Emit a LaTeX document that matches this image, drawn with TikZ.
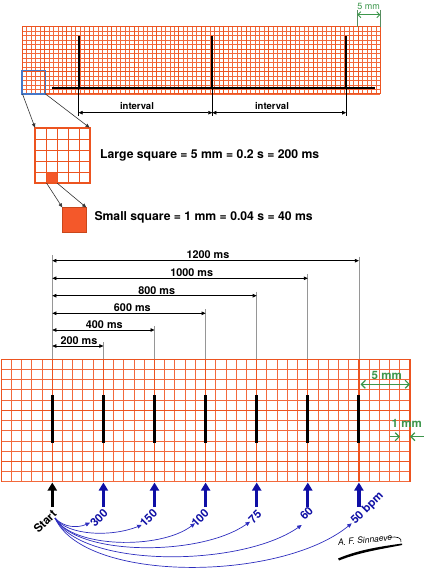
\documentclass[tikz,border=0pt]{standalone}
\usepackage{fontspec}
\setmainfont{TeX Gyre Heros}
\usetikzlibrary{arrows.meta,calc}
\definecolor{gridthin}{RGB}{242,105,60}
\definecolor{gridheavy}{RGB}{236,84,32}
\definecolor{fillsq}{RGB}{244,88,42}
\definecolor{bluebox}{RGB}{70,120,200}
\definecolor{greenc}{RGB}{60,150,75}
\definecolor{navy}{RGB}{15,15,165}
\definecolor{curveblue}{RGB}{45,45,190}
\definecolor{grayl}{RGB}{150,150,150}
\tikzset{
  thingrid/.style={draw=gridthin, line width=0.65pt},
  heavygrid/.style={draw=gridheavy, line width=1pt},
  bthingrid/.style={draw=gridthin, line width=0.95pt},
  bheavygrid/.style={draw=gridheavy, line width=1.3pt},
  dimarrow/.style={black, line width=0.6pt, {Triangle[length=4pt,width=3.5pt]}-{Triangle[length=4pt,width=3.5pt]}},
  zoomarrow/.style={black!80, line width=0.6pt, -{Triangle[length=4pt,width=3.5pt]}},
  greendim/.style={greenc, line width=1.2pt},
  bigarrow/.style={line width=3.2pt, -{Triangle[length=8pt,width=9pt]}},
  curvearrow/.style={curveblue, line width=0.7pt, -{Triangle[length=4.5pt,width=4pt]}},
  lbl/.style={font=\fontsize{10.8}{12}\selectfont\bfseries, inner sep=0pt},
  rlbl/.style={font=\fontsize{11.5}{13}\selectfont\bfseries, inner sep=0pt, rotate=45},
  spike/.style={black, line width=1.8pt},
  bspike/.style={black, line width=3pt},
}
\begin{document}
\begin{tikzpicture}[x=1pt,y=-1pt]
\useasboundingbox (0,0) rectangle (423,569);
% ---------------- top strip ----------------
\def\tx{22}\def\ty{26.7}\def\ts{4.48}
\fill[white] (\tx,\ty) rectangle ({\tx+80*\ts},{\ty+15*\ts});
\foreach \i in {0,...,80} \draw[thingrid] ({\tx+\i*\ts},\ty) -- ({\tx+\i*\ts},{\ty+15*\ts});
\foreach \j in {0,...,15} \draw[thingrid] (\tx,{\ty+\j*\ts}) -- ({\tx+80*\ts},{\ty+\j*\ts});
\foreach \i in {0,5,...,80} \draw[heavygrid] ({\tx+\i*\ts},\ty) -- ({\tx+\i*\ts},{\ty+15*\ts});
\foreach \j in {0,5,10,15} \draw[heavygrid] (\tx,{\ty+\j*\ts}) -- ({\tx+80*\ts},{\ty+\j*\ts});
% blue selection box
\draw[bluebox, line width=1.3pt] (22,70.8) rectangle (45.5,93.9);
\coordinate (bbl) at (22.5,94);
\coordinate (bbr) at (45,93.6);
% baseline and spikes
\coordinate (bl1) at (51.7,88);
\coordinate (bl2) at (375,88);
\draw[spike] (bl1) -- (bl2);
\foreach \n/\x in {s1/78.6, s2/212.3, s3/346.2} {
  \coordinate (\n top) at (\x,36);
  \coordinate (\n bot) at (\x,88);
  \coordinate (\n dim) at (\x,112.7);
  \draw[spike] (\n top) -- (\n bot);
  \draw[black, line width=0.6pt] (\n bot) -- ++(0,28);
}
\draw[dimarrow] (s1dim) -- (s2dim);
\draw[dimarrow] (s2dim) -- (s3dim);
\node[lbl, font=\fontsize{9.5}{11}\selectfont\bfseries] (int1) at (137,106.5) {interval};
\node[lbl, font=\fontsize{9.5}{11}\selectfont\bfseries] (int2) at (272,106.5) {interval};
% top 5 mm
\coordinate (t5a) at (357.2,14.7);
\coordinate (t5b) at (380.4,14.7);
\draw[greenc!60!gray, line width=0.5pt] (357.2,10) -- (357.2,\ty);
\draw[greenc!60!gray, line width=0.5pt] (380.4,10) -- (380.4,\ty);
\draw[greendim, line width=0.9pt, {Straight Barb[length=3pt,width=6pt]}-{Straight Barb[length=3pt,width=6pt]}] (t5a) -- (t5b);
\node[greenc, font=\fontsize{9}{10}\selectfont, inner sep=0pt] (t5l) at (368.5,6.5) {5 mm};
% ---------------- enlarged large square ----------------
\def\ex{35}\def\ey{128}\def\es{11}
\fill[white] (\ex,\ey) rectangle ({\ex+5*\es},{\ey+5*\es});
\fill[fillsq] ({\ex+\es},{\ey+4*\es}) rectangle ({\ex+2*\es},{\ey+5*\es});
\foreach \i in {1,...,4} {
  \draw[gridheavy, line width=0.8pt] ({\ex+\i*\es},\ey) -- ({\ex+\i*\es},{\ey+5*\es});
  \draw[gridheavy, line width=0.8pt] (\ex,{\ey+\i*\es}) -- ({\ex+5*\es},{\ey+\i*\es});
}
\draw[gridheavy, line width=1.1pt] (\ex,\ey) rectangle ({\ex+5*\es},{\ey+5*\es});
\coordinate (etl) at (35,127.6);
\coordinate (etr) at (89.5,127.6);
\draw[zoomarrow] (bbl) -- (etl);
\draw[zoomarrow] (bbr) -- (etr);
\coordinate (sbl) at (46.5,183);
\coordinate (sbr) at (57,183);
\node[lbl, font=\fontsize{12.2}{14}\selectfont\bfseries, anchor=west] (large) at (100,155) {Large square = 5 mm = 0.2 s = 200 ms};
% enlarged small square
\fill[fillsq] (62.3,207.7) rectangle (86.7,232.7);
\draw[gridheavy!85!black, line width=0.5pt] (62.3,207.7) rectangle (86.7,232.7);
\coordinate (stl) at (62.3,207.4);
\coordinate (str) at (86.2,207.4);
\draw[zoomarrow] (sbl) -- (stl);
\draw[zoomarrow] (sbr) -- (str);
\node[lbl, font=\fontsize{12.2}{14}\selectfont\bfseries, anchor=west] (small) at (94.3,217.7) {Small square = 1 mm = 0.04 s = 40 ms};
% ---------------- bottom strip ----------------
\def\bx{1.2}\def\by{359.3}\def\bs{10.22}
\fill[white] (\bx,\by) rectangle ({\bx+40*\bs},{\by+12*\bs});
\foreach \i in {0,...,40} \draw[bthingrid] ({\bx+\i*\bs},\by) -- ({\bx+\i*\bs},{\by+12*\bs});
\foreach \j in {0,...,12} \draw[bthingrid] (\bx,{\by+\j*\bs}) -- ({\bx+40*\bs},{\by+\j*\bs});
\foreach \i in {0,5,...,40} \draw[bheavygrid] ({\bx+\i*\bs},\by) -- ({\bx+\i*\bs},{\by+12*\bs});
\foreach \j in {0,5,10} \draw[bheavygrid] (\bx,{\by+\j*\bs}) -- ({\bx+40*\bs},{\by+\j*\bs});
% ms arrows
\coordinate (o top) at (52.3,255);
\coordinate (o grid) at (52.3,\by);
\draw[grayl, line width=0.7pt] (o top) -- (o grid);
\foreach \n/\k/\yy/\lx/\ly/\t in {a/1/346/79/340.5/200 ms, b/2/330/104.3/325/400 ms, c/3/313.3/132.3/308/600 ms, d/4/295.7/156.7/290.7/800 ms, e/5/278.3/191.7/273/1000 ms, f/6/260.7/208/255/1200 ms} {
  \coordinate (\n x) at ({\bx+\k*5*\bs+5*\bs},\yy);
  \coordinate (\n o) at (52.3,\yy);
  \draw[grayl, line width=0.7pt] ($(\n x)+(0,-4)$) -- (\n x |- o grid);
  \draw[dimarrow] (\n o) -- (\n x);
  \node[lbl] (\n lab) at (\lx,\ly) {\t};
}
% spikes
\foreach \k in {1,...,7} {
  \coordinate (b\k top) at ({\bx+\k*5*\bs},395);
  \coordinate (b\k bot) at ({\bx+\k*5*\bs},443.3);
  \draw[bspike] (b\k top) -- (b\k bot);
}
% green 5 mm / 1 mm
\coordinate (g5a) at (360.5,384.3);
\coordinate (g5b) at (410,384.3);
\draw[greendim, {Straight Barb[length=4pt,width=8pt]}-{Straight Barb[length=4pt,width=8pt]}] (g5a) -- (g5b);
\node[greenc, font=\fontsize{11.5}{13}\selectfont\bfseries, inner sep=0pt] (g5l) at (386.7,375) {5 mm};
\coordinate (g1a) at (389.5,436.7);
\coordinate (g1b) at (400,436.7);
\coordinate (g1c) at (423.5,436.7);
\coordinate (g1d) at (410,436.7);
\draw[greendim, -{Straight Barb[length=4pt,width=8pt]}] (g1a) -- (g1b);
\draw[greendim, -{Straight Barb[length=4pt,width=8pt]}] (g1c) -- (g1d);
\node[greenc, font=\fontsize{11.5}{13}\selectfont\bfseries, inner sep=0pt, anchor=west] (g1l) at (391.5,423.5) {1 mm};
% big bottom arrows
\coordinate (st tail) at (52.3,507);
\coordinate (st tip) at (52.3,482.5);
\draw[bigarrow, black] (st tail) -- (st tip);
\foreach \k in {2,...,7} {
  \coordinate (ar\k tail) at ({\bx+\k*5*\bs},507);
  \coordinate (ar\k tip) at ({\bx+\k*5*\bs},482.5);
  \draw[bigarrow, navy] (ar\k tail) -- (ar\k tip);
}
% rotated labels
\node[rlbl, black] (start) at (45,521.5) {Start};
\node[rlbl, navy] (l300) at (99,518) {300};
\node[rlbl, navy] (l150) at (148.5,518.3) {150};
\node[rlbl, navy] (l100) at (200,518) {100};
\node[rlbl, navy] (l75) at (255,516.7) {75};
\node[rlbl, navy] (l60) at (306.5,513.3) {60};
\node[rlbl, navy] (l50) at (367.5,508.5) {50 bpm};
% curves
\coordinate (cs) at (55,518);
\coordinate (c300) at (90,522.7);
\coordinate (c150) at (141.7,525);
\coordinate (c100) at (195,523.3);
\coordinate (c75) at (250,521.7);
\coordinate (c60) at (301.7,525);
\coordinate (c50) at (351.7,523.3);
\draw[curvearrow] (cs) .. controls (64,528) and (78,528) .. (c300);
\draw[curvearrow] (cs) .. controls (68,536) and (112,537) .. (c150);
\draw[curvearrow] (cs) .. controls (72,548) and (160,550) .. (c100);
\draw[curvearrow] (cs) .. controls (76,556) and (200,557) .. (c75);
\draw[curvearrow] (cs) .. controls (80,568) and (240,568) .. (c60);
\draw[curvearrow] (cs) .. controls (84,583) and (280,582) .. (c50);
% signature
\node[font=\fontsize{8.5}{9}\selectfont\itshape, inner sep=0pt, rotate=6] (sig) at (365,540) {A. F. Sinnaeve};
\fill[black] (338,558.5) .. controls (360,549) and (385,546) .. (402,543.5) -- (402,545) .. controls (385,548.5) and (360,552) .. (339,560.5) -- cycle;
\draw[black, line width=0.6pt] (390,537.5) .. controls (397,536) and (402,538) .. (401,542);
\end{tikzpicture}
\end{document}
